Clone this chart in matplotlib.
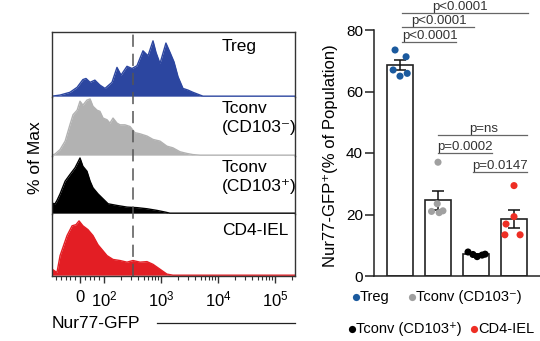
import matplotlib
matplotlib.use("Agg")
import matplotlib.pyplot as plt
from matplotlib.lines import Line2D
from matplotlib.transforms import blended_transform_factory
import numpy as np

plt.rcParams['font.family'] = ['Liberation Sans', 'DejaVu Sans']
plt.rcParams['mathtext.fontset'] = 'custom'
plt.rcParams['mathtext.rm'] = 'Liberation Sans'
plt.rcParams['mathtext.it'] = 'Liberation Sans:italic'

# ---------------- histogram data (Nur77-GFP intensity, % of max) ----------------
treg_gfp = [-117, -83, -42, -12, 12, 25, 42, 62, 83, 104, 138, 169, 199, 253, 310,
            379, 483, 591, 724, 817, 960, 1220, 1440, 1690, 1990, 2430, 2970, 3630,
            4840, 5450, 224000]
treg_pct = [0, 2, 7, 16, 30, 32, 25, 29, 20, 14, 25, 52, 38, 54, 50,
            55, 82, 73, 100, 79, 59, 96, 79, 62, 35, 14, 11, 7,
            2, 0, 0]

tconv_neg_gfp = [-117, -104, -83, -62, -42, -29, -12, 0, 12, 29, 42, 54, 71, 83, 96,
                 113, 127, 144, 169, 191, 233, 286, 350, 428, 568, 724, 960, 1270,
                 1620, 2160, 2850, 3630, 4840, 224000]
tconv_neg_pct = [0, 2, 10, 25, 54, 72, 80, 96, 89, 98, 100, 87, 80, 78, 66,
                 63, 57, 66, 57, 54, 54, 51, 40, 38, 34, 28, 25, 16,
                 13, 6, 3, 1, 0, 0]

tconv_pos_gfp = [-117, -104, -96, -83, -62, -42, -21, -8, 0, 12, 29, 42, 54, 75, 96,
                 118, 169, 253, 379, 568, 850, 1180, 1430, 224000]
tconv_pos_pct = [18, 17, 23, 35, 58, 70, 82, 93, 100, 85, 76, 58, 46, 35, 26,
                 17, 14, 11, 10, 8, 5, 2, 0, 0]

iel_gfp = [-117, -96, -83, -54, -33, -17, -4, 12, 33, 54, 75, 92, 113, 144, 191,
           253, 323, 428, 568, 724, 960, 1270, 1620, 224000]
iel_pct = [11, 5, 36, 73, 91, 93, 100, 91, 84, 73, 56, 47, 36, 29, 27,
           24, 27, 24, 25, 20, 11, 2, 0, 0]

gate_gfp = 320

hist_labels = [["Treg"], ["Tconv", "(CD103\u207b)"], ["Tconv", "(CD103\u207a)"], ["CD4-IEL"]]
hist_colors = ["#2c46a0", "#b2b2b2", "#000000", "#e31e24"]

# ---------------- bar chart data (% Nur77-GFP+ per mouse) ----------------
groups = ["Treg", "Tconv (CD103\u207b)", "Tconv (CD103\u207a)", "CD4-IEL"]
treg_pts = [73.5, 71.3, 67.0, 65.0, 65.9]
tconv_neg_pts = [37.0, 23.5, 21.0, 20.6, 21.2]
tconv_pos_pts = [7.8, 7.0, 6.3, 6.8, 7.1]
iel_pts = [29.4, 19.3, 16.9, 13.4, 13.4]

comparisons = [  # (group a, group b, label)
    (0, 3, "p<0.0001"),
    (0, 2, "p<0.0001"),
    (0, 1, "p<0.0001"),
    (1, 3, "p=ns"),
    (1, 2, "p=0.0002"),
    (2, 3, "p=0.0147"),
]

dot_colors = ["#1b5a9e", "#a0a0a0", "#000000", "#ee2e24"]

# ---------------- figure ----------------
W, H = 540, 341
fig = plt.figure(figsize=(W / 100, H / 100), dpi=100)


def fx(px):
    return px / W


def fy(py):
    return 1 - py / H


# stacked histograms
row_heights = [65, 59, 58, 62]
row_tops = [116, 103.5, 103.6, 112.7]
gs = fig.add_gridspec(4, 1, left=fx(52), right=fx(295), bottom=fy(276), top=fy(32),
                      height_ratios=row_heights, hspace=0)
hist_x = [treg_gfp, tconv_neg_gfp, tconv_pos_gfp, iel_gfp]
hist_y = [treg_pct, tconv_neg_pct, tconv_pos_pct, iel_pct]
axes = []
for i in range(4):
    ax = fig.add_subplot(gs[i], sharex=axes[0] if axes else None)
    axes.append(ax)
    ax.set_xscale('symlog', linthresh=100, linscale=0.379, base=10)
    ax.fill_between(hist_x[i], hist_y[i], 0, color=hist_colors[i], lw=0)
    ax.plot(hist_x[i], hist_y[i], color=hist_colors[i], lw=1.0)
    ax.set_ylim(-1.5, row_tops[i])
    ax.set_yticks([])
    for s in ('left', 'right', 'top', 'bottom'):
        ax.spines[s].set_color('#333333')
        ax.spines[s].set_linewidth(1.0)
    if i > 0:
        ax.spines['top'].set_visible(False)
    if i < 3:
        ax.spines['bottom'].set_visible(False)
        ax.tick_params(axis='x', which='both', bottom=False, labelbottom=False)
    ax.set_facecolor('none')

axb = axes[-1]
axb.set_xlim(-117.5, 2.244e5)
axb.set_xticks([0, 1e2, 1e3, 1e4, 1e5])
axb.set_xticklabels(['0', '$10^2$', '$10^3$', '$10^4$', '$10^5$'])
minor = [-100, -80, -60, -40, -20, 20, 40, 60, 80]
for dec in (1e2, 1e3, 1e4):
    minor += [m * dec for m in range(2, 10)]
minor += [2e5]
axb.set_xticks(minor, minor=True)
axb.tick_params(axis='x', which='major', length=5, width=1.0, color='#333333',
                labelsize=12, pad=5)
axb.tick_params(axis='x', which='minor', length=3, width=0.8, color='#333333')

# gate line across all rows
tr = blended_transform_factory(axb.transData, fig.transFigure)
fig.add_artist(Line2D([gate_gfp, gate_gfp], [fy(276), fy(32)], transform=tr,
                      color='#555555', lw=1.1, dashes=(8, 4.5)))

# row labels
label_baselines = [[51], [113, 132], [172, 191], [235]]
for lines, bases in zip(hist_labels, label_baselines):
    for txt, b in zip(lines, bases):
        fig.text(fx(222), fy(b), txt, fontsize=12.5, va='baseline', ha='left')

fig.text(fx(35), fy(158), "% of Max", rotation=90, fontsize=12.5, ha='center', va='center')
fig.text(fx(52), fy(323), "Nur77-GFP", fontsize=12.5, ha='left', va='center')
fig.add_artist(Line2D([fx(157), fx(295)], [fy(323), fy(323)], color='#222222', lw=0.9))

# ---------------- bar chart ----------------
ax2 = fig.add_axes([fx(374), fy(276), fx(540) - fx(374), fy(30) - fy(276)])
pts = [treg_pts, tconv_neg_pts, tconv_pos_pts, iel_pts]
jitter = [[-0.13, 0.16, -0.18, 0.0, 0.19],
          [0.0, -0.02, -0.17, 0.03, 0.13],
          [-0.21, -0.08, 0.03, 0.16, 0.24],
          [0.0, 0.0, -0.21, -0.24, 0.16]]
pos = np.arange(len(groups))
means = [np.mean(p) for p in pts]
sems = [np.std(p, ddof=1) / np.sqrt(len(p)) for p in pts]
ax2.bar(pos, means, width=0.684, color='white', edgecolor='#222222', lw=1.2, zorder=2)
ax2.errorbar(pos, means, yerr=sems, fmt='none', ecolor='#111111', elinewidth=1.1,
             capsize=4.5, capthick=1.1, zorder=3)
for i, p in enumerate(pts):
    ax2.scatter(pos[i] + np.array(jitter[i]), p, s=26, color=dot_colors[i],
                edgecolors='none', zorder=4, clip_on=False)

ax2.set_xlim(-0.684, 3.684)
ax2.set_ylim(0, 80)
ax2.set_yticks([0, 20, 40, 60, 80])
ax2.set_xticks([])
ax2.spines['top'].set_visible(False)
ax2.spines['right'].set_visible(False)
for s in ('left', 'bottom'):
    ax2.spines[s].set_linewidth(1.1)
    ax2.spines[s].set_color('#222222')
ax2.tick_params(axis='y', length=6.5, width=1.1, labelsize=11, pad=1.5, color='#222222')
ax2.set_facecolor('none')

fig.text(fx(331), fy(156), "Nur77-GFP\u207a(% of Population)", rotation=90,
         fontsize=12, ha='center', va='center')

# significance brackets: (x start, x end, y line, text x); text sits on its line
sig_layout = [(0.05, 3.37, 85.4, 1.57), (0.05, 1.95, 81.0, 1.03), (0.05, 1.47, 76.1, 0.78),
              (1.0, 3.34, 45.9, 2.21), (1.0, 2.42, 40.0, 1.71), (1.92, 3.34, 33.8, 2.63)]
for (a, b, lab), (x0, x1, yl, tx) in zip(comparisons, sig_layout):
    ax2.plot([x0, x1], [yl, yl], color='#666666', lw=0.9, clip_on=False, zorder=5)
    ax2.text(tx, yl + 0.95, lab, fontsize=9.5, color='#333333', ha='center',
             va='baseline', clip_on=False)

# legend
legend_layout = [(356, 297, 360), (412, 297, 416), (352, 329, 356), (474, 329, 478)]
for (dx, dy, tx), g, c in zip(legend_layout, groups, dot_colors):
    fig.add_artist(Line2D([fx(dx)], [fy(dy)], marker='o', markersize=5.2, color=c, lw=0,
                          markeredgewidth=0))
    fig.text(fx(tx), fy(dy), g, fontsize=10.5, ha='left', va='center')

fig.savefig("out.png", dpi=100)
